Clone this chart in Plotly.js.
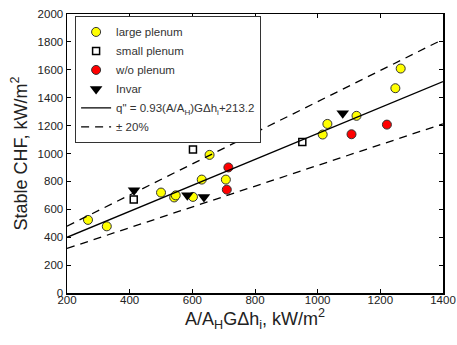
<!DOCTYPE html>
<html><head><meta charset="utf-8">
<script src="https://cdn.plot.ly/plotly-3.0.1.min.js"></script>
<style>html,body{margin:0;padding:0;background:#fff}#chart{width:457px;height:345px}</style>
</head><body><div id="chart"></div>
<script>
// large plenum
const largeX = [267, 327, 500, 542, 547, 602, 655, 630, 707, 1031, 1016, 1124, 1248, 1265];
const largeY = [524, 478, 720, 685, 700, 689, 990, 813, 813, 1212, 1136, 1270, 1468, 1609];
// small plenum
const smallX = [413, 602, 951];
const smallY = [670, 1028, 1083];
// w/o plenum
const woX = [715, 710, 1108, 1221];
const woY = [900, 741, 1138, 1207];
// Invar
const invarX = [414, 584, 637, 1080];
const invarY = [736, 700, 689, 1289];
// correlation q" = 0.93 x + 213.2, band ±20%
const slope = 0.93, intercept = 213.2, band = 0.2;
const fitX = [200, 1400];
const fitY = fitX.map(x => slope * x + intercept);
const upY = fitY.map(y => y * (1 + band));
const loY = fitY.map(y => y * (1 - band));

const traces = [
  {x: largeX, y: largeY, mode: 'markers', name: 'large plenum', type: 'scatter',
   marker: {symbol: 'circle', size: 9, color: '#ffff00', line: {color: '#333', width: 1}}},
  {x: smallX, y: smallY, mode: 'markers', name: 'small plenum', type: 'scatter',
   marker: {symbol: 'square-open', size: 7, color: '#000', line: {width: 1.5}}},
  {x: woX, y: woY, mode: 'markers', name: 'w/o plenum', type: 'scatter',
   marker: {symbol: 'circle', size: 9, color: '#ff0000', line: {color: '#333', width: 1}}},
  {x: invarX, y: invarY, mode: 'markers', name: 'Invar', type: 'scatter',
   marker: {symbol: 'triangle-down', size: 11, color: '#000'}},
  {x: fitX, y: fitY, mode: 'lines', name: 'q" = 0.93(A/A<sub>H</sub>)G\u0394h<sub>i</sub>+213.2', type: 'scatter',
   line: {color: '#000', width: 1.3}},
  {x: fitX, y: upY, mode: 'lines', name: '\u00b1 20%', type: 'scatter', legendgroup: 'band',
   line: {color: '#000', width: 1.3, dash: '8px,6px'}},
  {x: fitX, y: loY, mode: 'lines', name: '\u00b1 20%', type: 'scatter', legendgroup: 'band', showlegend: false,
   line: {color: '#000', width: 1.3, dash: '8px,6px'}}
];

const axisCommon = {
  showgrid: false, zeroline: false, showline: true, linecolor: '#000', linewidth: 1.5,
  mirror: 'ticks', ticks: 'inside', ticklen: 4, tickcolor: '#000', tickwidth: 1,
  tickfont: {family: 'Liberation Sans, Arial, sans-serif', size: 11.5, color: '#222'}
};

const layout = {
  width: 457, height: 345,
  margin: {l: 67, r: 14, t: 14, b: 52},
  paper_bgcolor: '#fff', plot_bgcolor: '#fff',
  font: {family: 'Liberation Sans, Arial, sans-serif', color: '#222'},
  xaxis: Object.assign({}, axisCommon, {range: [200, 1400], dtick: 200, tick0: 200, ticklabelstandoff: -4,
    title: {text: 'A/A<sub>H</sub>G\u0394h<sub>i</sub>, kW/m<sup>2</sup>', font: {size: 18, color: '#222'}, standoff: 0}}),
  yaxis: Object.assign({}, axisCommon, {range: [0, 2000], dtick: 200,
    title: {text: 'Stable CHF, kW/m<sup>2</sup>', font: {size: 18, color: '#222'}, standoff: 5}}),
  legend: {x: 0.021, y: 0.992, xanchor: 'left', yanchor: 'top', bgcolor: '#fff',
    bordercolor: '#333', borderwidth: 1.2, tracegroupgap: 0,
    font: {size: 11.5, color: '#333'}},
  showlegend: true
};

Plotly.newPlot('chart', traces, layout, {displayModeBar: false, staticPlot: true});
</script></body></html>
